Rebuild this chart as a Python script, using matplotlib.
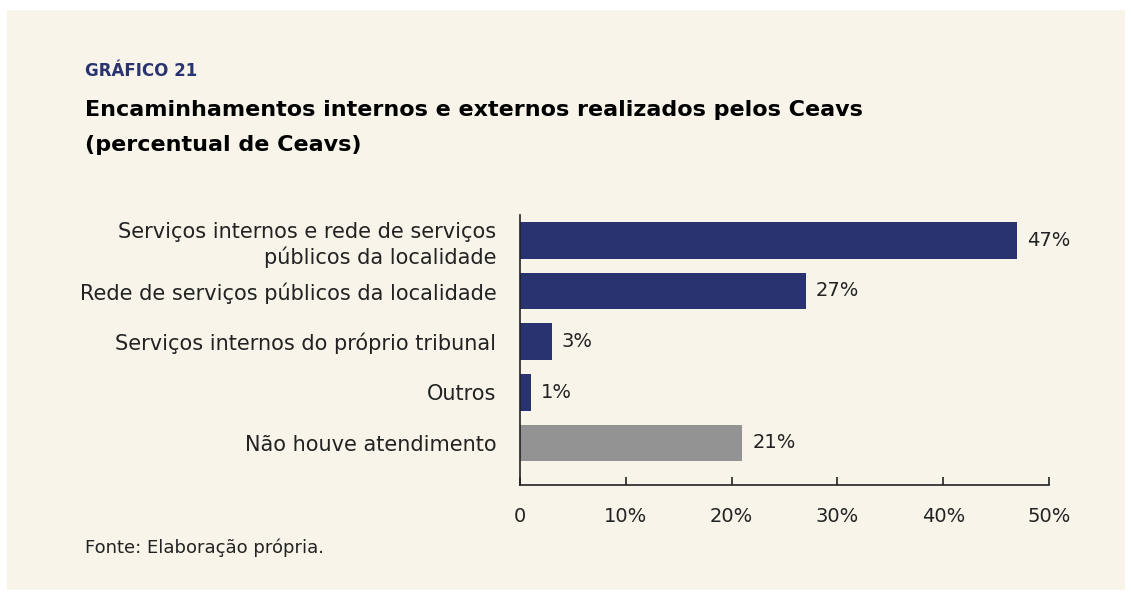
import matplotlib.pyplot as plt
from matplotlib.patches import Rectangle

# data
categories = [
    "Serviços internos e rede de serviços\npúblicos da localidade",
    "Rede de serviços públicos da localidade",
    "Serviços internos do próprio tribunal",
    "Outros",
    "Não houve atendimento",
]
values = [47, 27, 3, 1, 21]
value_labels = ["47%", "27%", "3%", "1%", "21%"]
xticks = [0, 10, 20, 30, 40, 50]
xtick_labels = ["0", "10%", "20%", "30%", "40%", "50%"]

navy = "#283370"
gray = "#939393"
bar_colors = [navy, navy, navy, navy, gray]
bg = "#f8f4ea"
text_color = "#222222"

plt.rcParams['font.family'] = ['DejaVu Sans']

W, H = 1131, 597
fig = plt.figure(figsize=(W / 100, H / 100), dpi=100)
fig.patch.set_facecolor("white")

# beige panel
fig.patches.append(Rectangle((7 / W, 1 - 590 / H), (1125 - 7) / W, (590 - 10) / H,
                             transform=fig.transFigure, facecolor=bg, edgecolor="none", zorder=-10))

# axes: x from 520 to 1049 px, y from 215 to 485 px
ax = fig.add_axes([520 / W, 1 - 485 / H, (1049 - 520) / W, (485 - 215) / H])
ax.set_zorder(5)
ax.set_facecolor("none")

y = list(range(len(categories)))
ax.barh(y, values, height=0.72, color=bar_colors)
ax.set_xlim(0, 50)
ax.set_ylim(4.83, -0.5)

for yi, v, lab in zip(y, values, value_labels):
    ax.text(v + 0.95, yi, lab, va="center", ha="left", fontsize=14, color=text_color)

ax.set_yticks(y)
ax.set_yticklabels(categories, fontsize=15, color=text_color, linespacing=1.3)
ax.tick_params(axis="y", length=0, pad=17)
ax.set_xticks(xticks)
ax.set_xticklabels(xtick_labels, fontsize=14, color=text_color)
ax.tick_params(axis="x", direction="in", length=6, width=1.2, pad=16, color=text_color)

for s in ["top", "right"]:
    ax.spines[s].set_visible(False)
ax.spines["left"].set_color(text_color)
ax.spines["bottom"].set_color(text_color)
ax.spines["left"].set_linewidth(1.2)
ax.spines["bottom"].set_linewidth(1.2)

# titles
fig.text(85 / W, 1 - 71 / H, "GRÁFICO 21", fontsize=12, fontweight="bold", color=navy,
         va="center", ha="left")
fig.text(85 / W, 1 - 110 / H, "Encaminhamentos internos e externos realizados pelos Ceavs",
         fontsize=16, fontweight="bold", color="black", va="center", ha="left")
fig.text(85 / W, 1 - 145 / H, "(percentual de Ceavs)",
         fontsize=16, fontweight="bold", color="black", va="center", ha="left")
fig.text(85 / W, 1 - 548 / H, "Fonte: Elaboração própria.", fontsize=13, color=text_color,
         va="center", ha="left")

fig.savefig("out.png", dpi=100, facecolor=fig.get_facecolor())
